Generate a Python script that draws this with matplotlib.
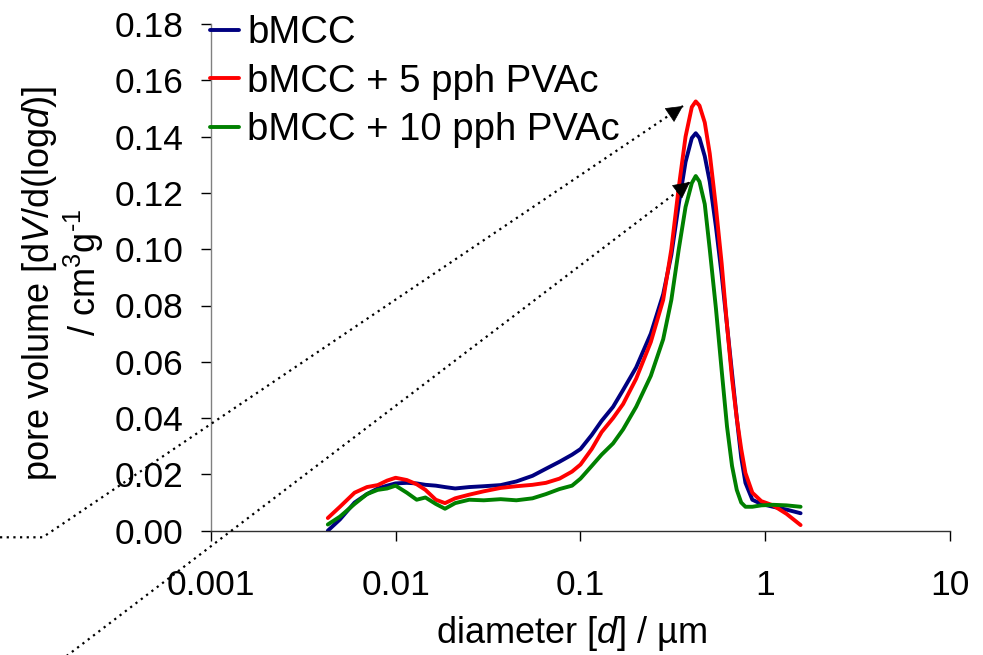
import matplotlib
matplotlib.use("Agg")
import matplotlib.pyplot as plt
from matplotlib.lines import Line2D
from matplotlib.patches import FancyArrowPatch
from matplotlib.ticker import FixedLocator, FixedFormatter, NullLocator

plt.rcParams['font.family'] = ['Liberation Sans', 'DejaVu Sans']
plt.rcParams['mathtext.fontset'] = 'custom'
plt.rcParams['mathtext.rm'] = 'Liberation Sans'
plt.rcParams['mathtext.it'] = 'Liberation Sans:italic'

# ---- data ----
diameter = [0.0043, 0.005, 0.006, 0.007, 0.008, 0.009, 0.010, 0.0115, 0.013, 0.0145,
            0.0165, 0.0185, 0.021, 0.025, 0.03, 0.037, 0.045, 0.055, 0.065, 0.077,
            0.09, 0.1, 0.115, 0.13, 0.15, 0.17, 0.2, 0.24, 0.28, 0.31,
            0.34, 0.37, 0.40, 0.42, 0.44, 0.47, 0.50, 0.54, 0.58, 0.62,
            0.66, 0.70, 0.74, 0.78, 0.85, 0.95, 1.1, 1.3, 1.55]

bmcc = [0.000, 0.004, 0.010, 0.013, 0.015, 0.016, 0.0168, 0.0170, 0.0168, 0.0163,
        0.0160, 0.0155, 0.0150, 0.0155, 0.0158, 0.0162, 0.0175, 0.0195, 0.0220, 0.0245,
        0.0270, 0.0290, 0.0340, 0.0390, 0.0440, 0.0500, 0.0580, 0.0700, 0.0840, 0.0980,
        0.1160, 0.1310, 0.1395, 0.1412, 0.1395, 0.1330, 0.1240, 0.1080, 0.0910, 0.0730,
        0.0560, 0.0400, 0.0260, 0.0170, 0.0110, 0.0095, 0.0085, 0.0075, 0.0062]

bmcc_5 = [0.0045, 0.0085, 0.0135, 0.0155, 0.0162, 0.0178, 0.0188, 0.0180, 0.0165, 0.0145,
          0.0110, 0.0098, 0.0115, 0.0128, 0.0140, 0.0152, 0.0158, 0.0163, 0.0170, 0.0185,
          0.0210, 0.0235, 0.0290, 0.0350, 0.0400, 0.0450, 0.0540, 0.0670, 0.0820, 0.1000,
          0.1220, 0.1400, 0.1505, 0.1525, 0.1510, 0.1450, 0.1340, 0.1150, 0.0950, 0.0730,
          0.0540, 0.0400, 0.0290, 0.0205, 0.0135, 0.0105, 0.0090, 0.0060, 0.0020]

bmcc_10 = [0.0022, 0.0050, 0.0095, 0.0130, 0.0145, 0.0150, 0.0160, 0.0135, 0.0110, 0.0118,
           0.0095, 0.0078, 0.0098, 0.0110, 0.0108, 0.0112, 0.0108, 0.0115, 0.0130, 0.0148,
           0.0160, 0.0185, 0.0230, 0.0270, 0.0310, 0.0360, 0.0440, 0.0550, 0.0680, 0.0820,
           0.1000, 0.1150, 0.1235, 0.1260, 0.1240, 0.1160, 0.1000, 0.0790, 0.0570, 0.0370,
           0.0230, 0.0145, 0.0100, 0.0085, 0.0085, 0.0090, 0.0092, 0.0090, 0.0085]

series_labels = ['bMCC', 'bMCC + 5 pph PVAc', 'bMCC + 10 pph PVAc']
series_colors = ['#000080', '#ff0000', '#008000']
x_ticks = [0.001, 0.01, 0.1, 1, 10]
x_tick_labels = ['0.001', '0.01', '0.1', '1', '10']
y_ticks = [0.00, 0.02, 0.04, 0.06, 0.08, 0.10, 0.12, 0.14, 0.16, 0.18]

# ---- figure ----
W, H = 983, 655
fig = plt.figure(figsize=(W / 100, H / 100), dpi=100)
ax = fig.add_axes([210.7 / W, 1 - 530.7 / H, (950.3 - 210.7) / W, (530.7 - 24) / H])

for ys, lab, col in zip([bmcc, bmcc_5, bmcc_10], series_labels, series_colors):
    ax.plot(diameter, ys, color=col, lw=2.8, label=lab, solid_joinstyle='round',
            solid_capstyle='round')

ax.set_xscale('log')
ax.set_xlim(0.001, 10)
ax.set_ylim(0, 0.18)
ax.xaxis.set_major_locator(FixedLocator(x_ticks))
ax.xaxis.set_major_formatter(FixedFormatter(x_tick_labels))
ax.xaxis.set_minor_locator(NullLocator())
ax.set_yticks(y_ticks)
ax.set_yticklabels([f'{v:.2f}' for v in y_ticks])

for s in ['top', 'right']:
    ax.spines[s].set_visible(False)
ax.spines['left'].set_color('#808080')
ax.spines['bottom'].set_color('#303030')
ax.spines['left'].set_linewidth(1.0)
ax.spines['bottom'].set_linewidth(1.0)
ax.tick_params(axis='both', direction='out', length=7.5, width=1.0, color='black',
               labelsize=25.5)
ax.tick_params(axis='y', pad=12)
ax.tick_params(axis='x', pad=20)

ax.set_xlabel('diameter [$\\mathit{d}$] / µm', fontsize=26)
ax.xaxis.set_label_coords((572 - 210.7) / (950.3 - 210.7), -0.165)

fig.text(40 / W, 1 - 283 / H, 'pore volume [d$\\mathit{V}$/d(log$\\mathit{d}$)]',
         rotation=90, ha='center', va='center', fontsize=26)
fig.text(84 / W, 1 - 272 / H, '/ cm$^{3}$g$^{\u20101}$',
         rotation=90, ha='center', va='center', fontsize=26)

leg = ax.legend(loc='upper left', bbox_to_anchor=(210 / W, 1 - 15 / H),
                bbox_transform=fig.transFigure, frameon=False, fontsize=27.5,
                handlelength=0.75, handletextpad=0.22, labelspacing=0.33,
                borderpad=0, borderaxespad=0)

# ---- dotted annotation arrows (figure pixel coordinates) ----
def dotted_arrow(pts, tip):
    xs = [p[0] / W for p in pts] + [tip[0] / W]
    ys = [1 - p[1] / H for p in pts] + [1 - tip[1] / H]
    fig.add_artist(Line2D(xs, ys, transform=fig.transFigure, color='black', lw=1.6,
                          linestyle=(0, (1, 2)), dash_capstyle='butt'))
    px, py = pts[-1]
    dx, dy = tip[0] - px, tip[1] - py
    L = (dx ** 2 + dy ** 2) ** 0.5
    back = (tip[0] - dx / L * 14, tip[1] - dy / L * 14)
    fig.add_artist(FancyArrowPatch(
        (back[0] / W, 1 - back[1] / H), (tip[0] / W, 1 - tip[1] / H),
        transform=fig.transFigure, arrowstyle='-|>,head_length=0.55,head_width=0.28',
        mutation_scale=20, color='black', lw=0.5, shrinkA=0, shrinkB=0))

dotted_arrow([(0, 537.3), (42.7, 537.3)], (683, 106))
dotted_arrow([(60, 661)], (690, 182))

fig.savefig('out.png', dpi=100)
